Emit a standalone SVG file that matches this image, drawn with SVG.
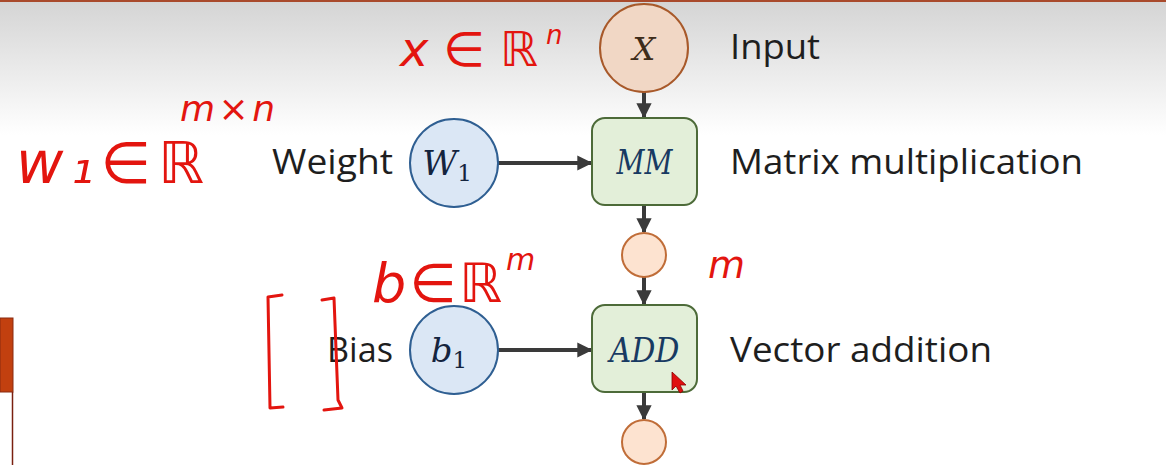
<svg xmlns="http://www.w3.org/2000/svg" width="1166" height="465" viewBox="0 0 1166 465">
<defs>
<linearGradient id="bg" x1="0" y1="0" x2="0" y2="1" gradientUnits="objectBoundingBox">
<stop offset="0" stop-color="#d4d4d4"/>
<stop offset="1" stop-color="#ffffff"/>
</linearGradient>
<marker id="ah" viewBox="0 0 10 10" refX="9" refY="5" markerWidth="3.8" markerHeight="3.8" orient="auto" markerUnits="strokeWidth">
<path d="M0,0 L10,5 L0,10 z" fill="#3a3a3a"/>
</marker>
<style>
.lbl{font-family:"Open Sans","Noto Sans","Liberation Sans",sans-serif;font-size:34px;fill:#1e1e1e}
.math{font-family:"DejaVu Serif","Liberation Serif",serif;font-style:italic}
.op{fill:#e3efd9;stroke:#4d6b39;stroke-width:2}
.inp{fill:#f1d7c5;stroke:#a8592a;stroke-width:2}
.par{fill:#dbe7f5;stroke:#2f5f92;stroke-width:2}
.val{fill:#fde3d0;stroke:#c06d38;stroke-width:2}
.conn{stroke:#3a3a3a;stroke-width:4;fill:none;marker-end:url(#ah)}
.ann{font-family:"DejaVu Sans","Liberation Sans",sans-serif;font-style:italic;fill:#e3150f}
.annl{stroke:#e3150f;stroke-width:3;fill:none;stroke-linecap:round;stroke-linejoin:round}
</style>
</defs>
<rect x="0" y="0" width="1166" height="135" fill="url(#bg)"/>
<rect x="0" y="135" width="1166" height="330" fill="#ffffff"/>
<rect x="0" y="0" width="1166" height="2" fill="#a94a2c"/>
<g id="side-tab">
<rect x="0" y="318" width="13" height="74" fill="#c2400f" stroke="#8a2a10" stroke-width="1"/>
<line x1="12.5" y1="392" x2="12.5" y2="465" stroke="#7a2010" stroke-width="1.5"/>
</g>
<g id="connectors">
<line class="conn" x1="644" y1="92" x2="644" y2="117"/>
<line class="conn" x1="498" y1="163" x2="591" y2="163"/>
<line class="conn" x1="644" y1="205" x2="644" y2="232"/>
<line class="conn" x1="644" y1="277" x2="644" y2="304"/>
<line class="conn" x1="498" y1="350" x2="591" y2="350"/>
<line class="conn" x1="644" y1="392" x2="644" y2="419"/>
</g>
<g id="node-x">
<circle class="inp" cx="644" cy="48" r="44"/>
<text class="math" x="644" y="60" font-size="32" text-anchor="middle" fill="#3e2c1a">X</text>
<text class="lbl" x="730" y="59" textLength="90" lengthAdjust="spacingAndGlyphs">Input</text>
</g>
<g id="node-w1">
<circle class="par" cx="454" cy="163" r="44"/>
<text class="math" x="447" y="175" font-size="34" text-anchor="middle" fill="#14243e">W<tspan font-style="normal" font-size="23" dy="6">1</tspan></text>
<text class="lbl" x="272" y="174" textLength="121" lengthAdjust="spacingAndGlyphs">Weight</text>
</g>
<g id="node-mm">
<rect class="op" x="592" y="118" width="105" height="87" rx="13"/>
<text class="math" x="644.5" y="174" font-size="33" text-anchor="middle" fill="#183a62" textLength="56" lengthAdjust="spacingAndGlyphs">MM</text>
<text class="lbl" x="730" y="174" textLength="353" lengthAdjust="spacingAndGlyphs">Matrix multiplication</text>
</g>
<g id="node-h">
<circle class="val" cx="644" cy="255" r="22"/>
</g>
<g id="node-b1">
<circle class="par" cx="454" cy="350" r="44"/>
<text class="math" x="449" y="362" font-size="34" text-anchor="middle" fill="#14243e">b<tspan font-style="normal" font-size="23" dy="6">1</tspan></text>
<text class="lbl" x="327" y="362" textLength="66" lengthAdjust="spacingAndGlyphs">Bias</text>
</g>
<g id="node-add">
<rect class="op" x="592" y="305" width="105" height="87" rx="13"/>
<text class="math" x="644.5" y="362" font-size="33" text-anchor="middle" fill="#183a62" textLength="70" lengthAdjust="spacingAndGlyphs">ADD</text>
<text class="lbl" x="730" y="362" textLength="262" lengthAdjust="spacingAndGlyphs">Vector addition</text>
</g>
<g id="node-out">
<circle class="val" cx="644" cy="442" r="22"/>
</g>
<g id="annotations">
<text class="ann" x="400" y="66" font-size="48" textLength="138" lengthAdjust="spacing">x∈ℝ</text>
<text class="ann" x="546" y="44" font-size="26">n</text>
<text class="ann" x="16" y="183" font-size="58" textLength="188" lengthAdjust="spacing">w₁∈ℝ</text>
<text class="ann" x="180" y="121" font-size="36" textLength="95" lengthAdjust="spacing">m×n</text>
<text class="ann" x="372" y="302" font-size="54" textLength="130" lengthAdjust="spacing">b∈ℝ</text>
<text class="ann" x="506" y="270" font-size="30">m</text>
<text class="ann" x="708" y="278" font-size="38">m</text>
<path class="annl" d="M282,295 L268,297 L270,408 L283,407"/>
<path class="annl" d="M322,300 L334,298 L338,400 L342,408 L324,410"/>
<path d="M672,372 L672,390 L676,386 L680,393 L683,391 L680,385 L686,385 Z" fill="#e01010" stroke="#8a0000" stroke-width="0.8"/>
</g>
</svg>
